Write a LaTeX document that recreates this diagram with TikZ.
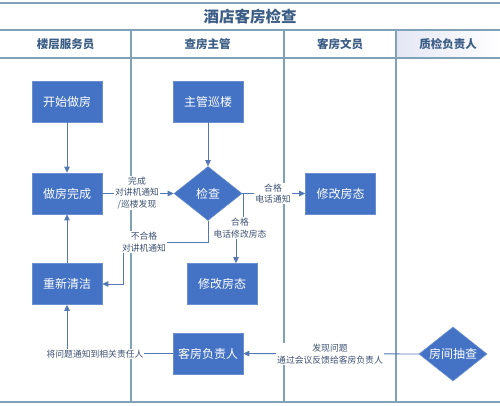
\documentclass[tikz,border=0pt]{standalone}
\usepackage{fontspec}
\setmainfont{Noto Sans CJK SC}
\usetikzlibrary{arrows.meta,shapes.geometric,positioning}
\definecolor{nodeblue}{HTML}{4472C4}
\definecolor{nodeedge}{HTML}{6A8FD0}
\definecolor{lanecol}{HTML}{7FA2B8}
\definecolor{linecol}{HTML}{5478B4}
\definecolor{headtxt}{HTML}{3C5E86}
\definecolor{labtxt}{HTML}{3E5272}
\definecolor{lavender}{HTML}{E4E6F4}
\tikzset{
  box/.style={rectangle,fill=nodeblue,draw=nodeedge,line width=0.6pt,text=white,
    minimum width=70pt,minimum height=41pt,inner sep=0pt,
    font={\fontsize{12}{14}\selectfont}},
  dia/.style={diamond,fill=nodeblue,draw=nodeedge,line width=0.6pt,text=white,
    aspect=1.25,inner sep=0pt,minimum width=68pt,minimum height=54pt,
    font={\fontsize{12}{14}\selectfont}},
  conn/.style={draw=linecol,line width=0.8pt,-{Triangle[length=6pt,width=5.5pt]}},
  lab/.style={fill=white,text=labtxt,align=center,inner sep=1pt,
    font={\fontsize{8.8}{11.5}\selectfont}},
  lane/.style={draw=lanecol,line width=1.1pt},
  head/.style={text=headtxt,font={\fontsize{11.5}{13}\selectfont\bfseries}}
}
\begin{document}
\begin{tikzpicture}[x=1pt,y=-1pt]
\fill[white] (0,0) rectangle (500,405);
\useasboundingbox (0,0) rectangle (500,405);
% header shading
\shade[left color=lavender,right color=white] (396,30) rectangle (500,58);
% lanes
\draw[lane] (0,3) -- (500,3);
\draw[lane] (0,30) -- (500,30);
\draw[lane] (0,58) -- (500,58);
\draw[lane] (0,402) -- (500,402);
\draw[lane] (131,30) -- (131,402);
\draw[lane] (284,30) -- (284,402);
\draw[lane] (396,30) -- (396,402);
% titles
\node[text=headtxt,font={\fontsize{15.5}{17}\selectfont\bfseries}] (title) at (250,16.5) {酒店客房检查};
\node[head] (h1) at (65.5,44) {楼层服务员};
\node[head] (h2) at (207.5,44) {查房主管};
\node[head] (h3) at (340,44) {客房文员};
\node[head] (h4) at (448,44) {质检负责人};
% nodes
\node[box] (start) at (67,101.5) {开始做房};
\node[box] (done) at (67,193.5) {做房完成};
\node[box] (clean) at (67,284) {重新清洁};
\node[box] (patrol) at (208,101.5) {主管巡楼};
\node[dia] (chk) at (208,193.5) {检查};
\node[box] (mod2) at (222,284) {修改房态};
\node[box] (mod1) at (340.5,193.5) {修改房态};
\node[box] (owner) at (208,353.5) {客房负责人};
\node[dia] (spot) at (453,354) {房间抽查};
% helper coordinates
\coordinate (c1) at (123,242);
\coordinate (c2) at (243,228);
\coordinate (c3) at (236,228);
\coordinate (c4) at (67,353.5);
% connectors
\draw[conn] (start) -- (done);
\draw[conn] (patrol) -- (chk);
\draw[conn] (done) -- (chk);
\draw[conn] (chk.south) |- (c1) |- (clean.east);
\draw[conn] (chk.east) -- (mod1);
\draw[draw=linecol,line width=0.8pt] (chk.east) -| (c2) -- (c3);
\draw[conn] (c3) -- (c3 |- mod2.north);
\draw[conn] (clean) -- (done);
\draw[conn] (spot) -- (owner);
\draw[conn] (owner.west) -- (c4) -- (clean.south);
% labels
\node[lab] (l1) at (137,193) {完成\\对讲机通知\\/巡楼发现};
\node[lab] (l2) at (144,242) {不合格\\对讲机通知};
\node[lab] (l3) at (273,193.5) {合格\\电话通知};
\node[lab] (l4) at (240,228) {合格\\电话修改房态};
\node[lab] (l5) at (330,354) {发现问题\\通过会议反馈给客房负责人};
\node[lab] (l6) at (95,354) {将问题通知到相关责任人};
\end{tikzpicture}
\end{document}
